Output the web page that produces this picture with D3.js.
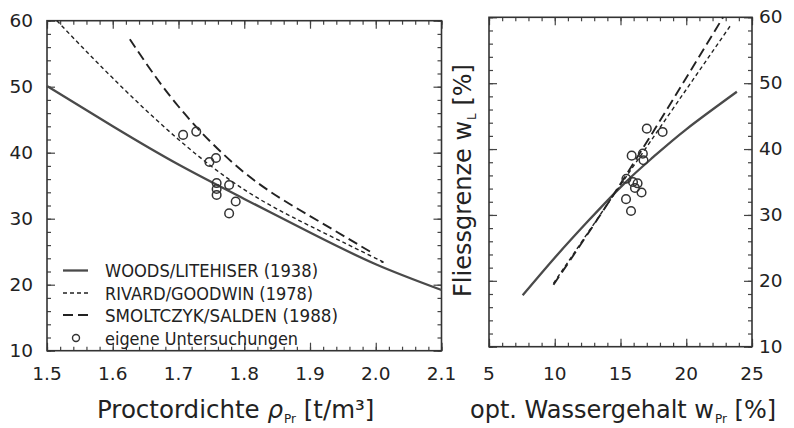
<!DOCTYPE html>
<html><head><meta charset="utf-8">
<script src="https://cdn.jsdelivr.net/npm/d3@7"></script>
<style>body{margin:0;background:#fff}svg{display:block}</style>
</head><body>
<script>
// ---- data ----
const leftXTicks = [1.5,1.6,1.7,1.8,1.9,2.0,2.1];
const yTicks = [10,20,30,40,50,60];
const rightXTicks = [5,10,15,20,25];

const woodsRho = [1.5,1.6,1.7,1.8,1.9,2.0,2.1];
const woodsWLrho = [50.1,44.0,38.2,33.0,27.9,23.1,19.2];
const rivardRho = [1.515,1.6,1.7,1.8,1.9,2.0,2.008];
const rivardWLrho = [60,51.3,42.0,34.4,28.9,24.0,23.5];
const smoltRho = [1.626,1.7,1.8,1.9,1.995];
const smoltWLrho = [57.2,47.0,37.0,30.4,24.8];
const ownRho = [1.707,1.727,1.747,1.757,1.777,1.758,1.758,1.758,1.787,1.777];
const ownWLrho = [42.7,43.2,38.6,39.2,35.1,35.4,34.5,33.6,32.6,30.8];

const woodsW = [7.56,10,12.5,15.3,17.5,20,23.85];
const woodsWLw = [17.8,23.5,29.0,34.8,38.8,43.0,48.7];
const rivardW = [9.9,15.5,23.45];
const rivardWLw = [19.6,36.0,59.0];
const smoltW = [9.9,15.5,22.8];
const smoltWLw = [19.4,36.3,60.0];
const ownW = [17.0,18.2,15.85,16.7,16.75,15.45,15.95,16.3,16.1,16.6,15.42,15.8];
const ownWLw = [43.1,42.6,39.0,39.3,38.3,35.5,35.0,34.8,34.1,33.4,32.4,30.6];

const legendLabels = ["WOODS/LITEHISER (1938)","RIVARD/GOODWIN (1978)","SMOLTCZYK/SALDEN (1988)","eigene Untersuchungen"];

// ---- drawing ----
const W=794,H=428;
const svg=d3.select("body").append("svg").attr("width",W).attr("height",H);
const ink="#222";
const FONT="DejaVu Sans, Liberation Sans, sans-serif";

const xL=d3.scaleLinear([1.5,2.1],[47,441.5]);
const yL=d3.scaleLinear([10,60],[350.7,20.7]);
const xR=d3.scaleLinear([5,25],[489,752]);
const yR=d3.scaleLinear([10,60],[346.7,17.3]);

const styles={
  woods:{stroke:"#4a4a4a",w:2.3,dash:null},
  rivard:{stroke:ink,w:1.4,dash:"4,3"},
  smolt:{stroke:ink,w:1.9,dash:"10,5"}
};

function range(a,b,s){const r=[];for(let v=a;v<=b+1e-9;v+=s)r.push(+v.toFixed(4));return r;}

function frame(x,y,xMinor,yMinor,xMajor,yMajor){
  const g=svg.append("g");
  const [x0,x1]=x.range(),[y0,y1]=y.range();
  const mk=(axisFn,scale,vals,size,tr)=>{
    const a=g.append("g").attr("transform",tr)
      .call(axisFn(scale).tickValues(vals).tickSize(size).tickFormat(""));
    a.select(".domain").remove();
    a.selectAll("line").attr("stroke","#444").attr("stroke-width",1.2);
  };
  mk(d3.axisBottom,x,xMinor,-4,`translate(0,${y0})`);
  mk(d3.axisBottom,x,xMajor,-8,`translate(0,${y0})`);
  mk(d3.axisTop,x,xMinor,-4,`translate(0,${y1})`);
  mk(d3.axisTop,x,xMajor,-8,`translate(0,${y1})`);
  mk(d3.axisLeft,y,yMinor,-4,`translate(${x0},0)`);
  mk(d3.axisLeft,y,yMajor,-8,`translate(${x0},0)`);
  mk(d3.axisRight,y,yMinor,-4,`translate(${x1},0)`);
  mk(d3.axisRight,y,yMajor,-8,`translate(${x1},0)`);
  g.append("rect").attr("x",x0).attr("y",y1).attr("width",x1-x0).attr("height",y0-y1)
    .attr("fill","none").attr("stroke","#333").attr("stroke-width",1.6);
}

frame(xL,yL,range(1.5,2.1,0.02),range(10,60,2),leftXTicks,yTicks);
frame(xR,yR,range(5,25,1),range(10,60,2),rightXTicks,yTicks);

// tick labels
const lbl=svg.append("g").attr("font-family",FONT).attr("font-size",18.5).attr("fill",ink);
lbl.selectAll(".lx").data(leftXTicks).join("text").attr("x",d=>xL(d)).attr("y",380)
  .attr("text-anchor","middle").text(d=>d.toFixed(1));
lbl.selectAll(".ly").data(yTicks).join("text").attr("x",33).attr("y",d=>yL(d)+6)
  .attr("text-anchor","end").text(d=>d);
lbl.selectAll(".rx").data(rightXTicks).join("text").attr("x",d=>xR(d)).attr("y",380)
  .attr("text-anchor","middle").text(d=>d);
lbl.selectAll(".ry").data(yTicks).join("text").attr("x",759).attr("y",d=>yR(d)+6)
  .attr("text-anchor","start").text(d=>d);

// curves
function curve(x,y,xs,ys,st,cv){
  const pts=xs.map((v,i)=>[v,ys[i]]);
  svg.append("path").datum(pts)
    .attr("d",d3.line().x(d=>x(d[0])).y(d=>y(d[1])).curve(cv||d3.curveNatural))
    .attr("fill","none").attr("stroke",st.stroke).attr("stroke-width",st.w)
    .attr("stroke-dasharray",st.dash);
}
curve(xL,yL,woodsRho,woodsWLrho,styles.woods);
curve(xL,yL,rivardRho,rivardWLrho,styles.rivard);
curve(xL,yL,smoltRho,smoltWLrho,styles.smolt);
curve(xR,yR,woodsW,woodsWLw,styles.woods);
curve(xR,yR,rivardW,rivardWLw,styles.rivard);
curve(xR,yR,smoltW,smoltWLw,styles.smolt);

function circles(x,y,xs,ys){
  svg.append("g").selectAll("circle").data(xs.map((v,i)=>[v,ys[i]])).join("circle")
    .attr("cx",d=>x(d[0])).attr("cy",d=>y(d[1])).attr("r",4.3)
    .attr("fill","none").attr("stroke","#333").attr("stroke-width",1.5);
}
circles(xL,yL,ownRho,ownWLrho);
circles(xR,yR,ownW,ownWLw);

// legend
const lg=svg.append("g").attr("font-family",FONT).attr("fill",ink).attr("font-size",17.5);
const rowY=[270.5,293,315,338];
const lens=[213,208,233,193];
const keys=["woods","rivard","smolt"];
keys.forEach((k,i)=>{
  const st=styles[k];
  lg.append("line").attr("x1",63).attr("x2",88).attr("y1",rowY[i]).attr("y2",rowY[i])
    .attr("stroke",st.stroke).attr("stroke-width",st.w).attr("stroke-dasharray",st.dash);
});
lg.append("circle").attr("cx",76).attr("cy",rowY[3]).attr("r",3.5).attr("fill","none")
  .attr("stroke","#333").attr("stroke-width",1.4);
lg.selectAll("text").data(legendLabels).join("text").attr("x",105).attr("y",(d,i)=>rowY[i]+6.5)
  .attr("textLength",(d,i)=>lens[i]).attr("lengthAdjust","spacingAndGlyphs").text(d=>d);

// axis titles
const t1=svg.append("text").attr("font-family",FONT).attr("font-size",24.5).attr("fill",ink)
  .attr("x",97).attr("y",418);
t1.append("tspan").text("Proctordichte ");
t1.append("tspan").attr("font-style","italic").text("ρ");
t1.append("tspan").attr("font-size",12).attr("dx",1).attr("dy",5).text("Pr");
t1.append("tspan").attr("dy",-5).text(" [t/m³]");

const t2=svg.append("text").attr("font-family",FONT).attr("font-size",24).attr("fill",ink)
  .attr("x",470).attr("y",418);
t2.append("tspan").text("opt. Wassergehalt w");
t2.append("tspan").attr("font-size",12).attr("dx",1).attr("dy",5).text("Pr");
t2.append("tspan").attr("dy",-5).text(" [%]");

const t3=svg.append("text").attr("font-family",FONT).attr("font-size",24).attr("fill",ink)
  .attr("transform","translate(471,297) rotate(-90)");
t3.append("tspan").text("Fliessgrenze w");
t3.append("tspan").attr("font-size",12).attr("dx",1).attr("dy",5).text("L");
t3.append("tspan").attr("dy",-5).text(" [%]");
</script>
</body></html>
